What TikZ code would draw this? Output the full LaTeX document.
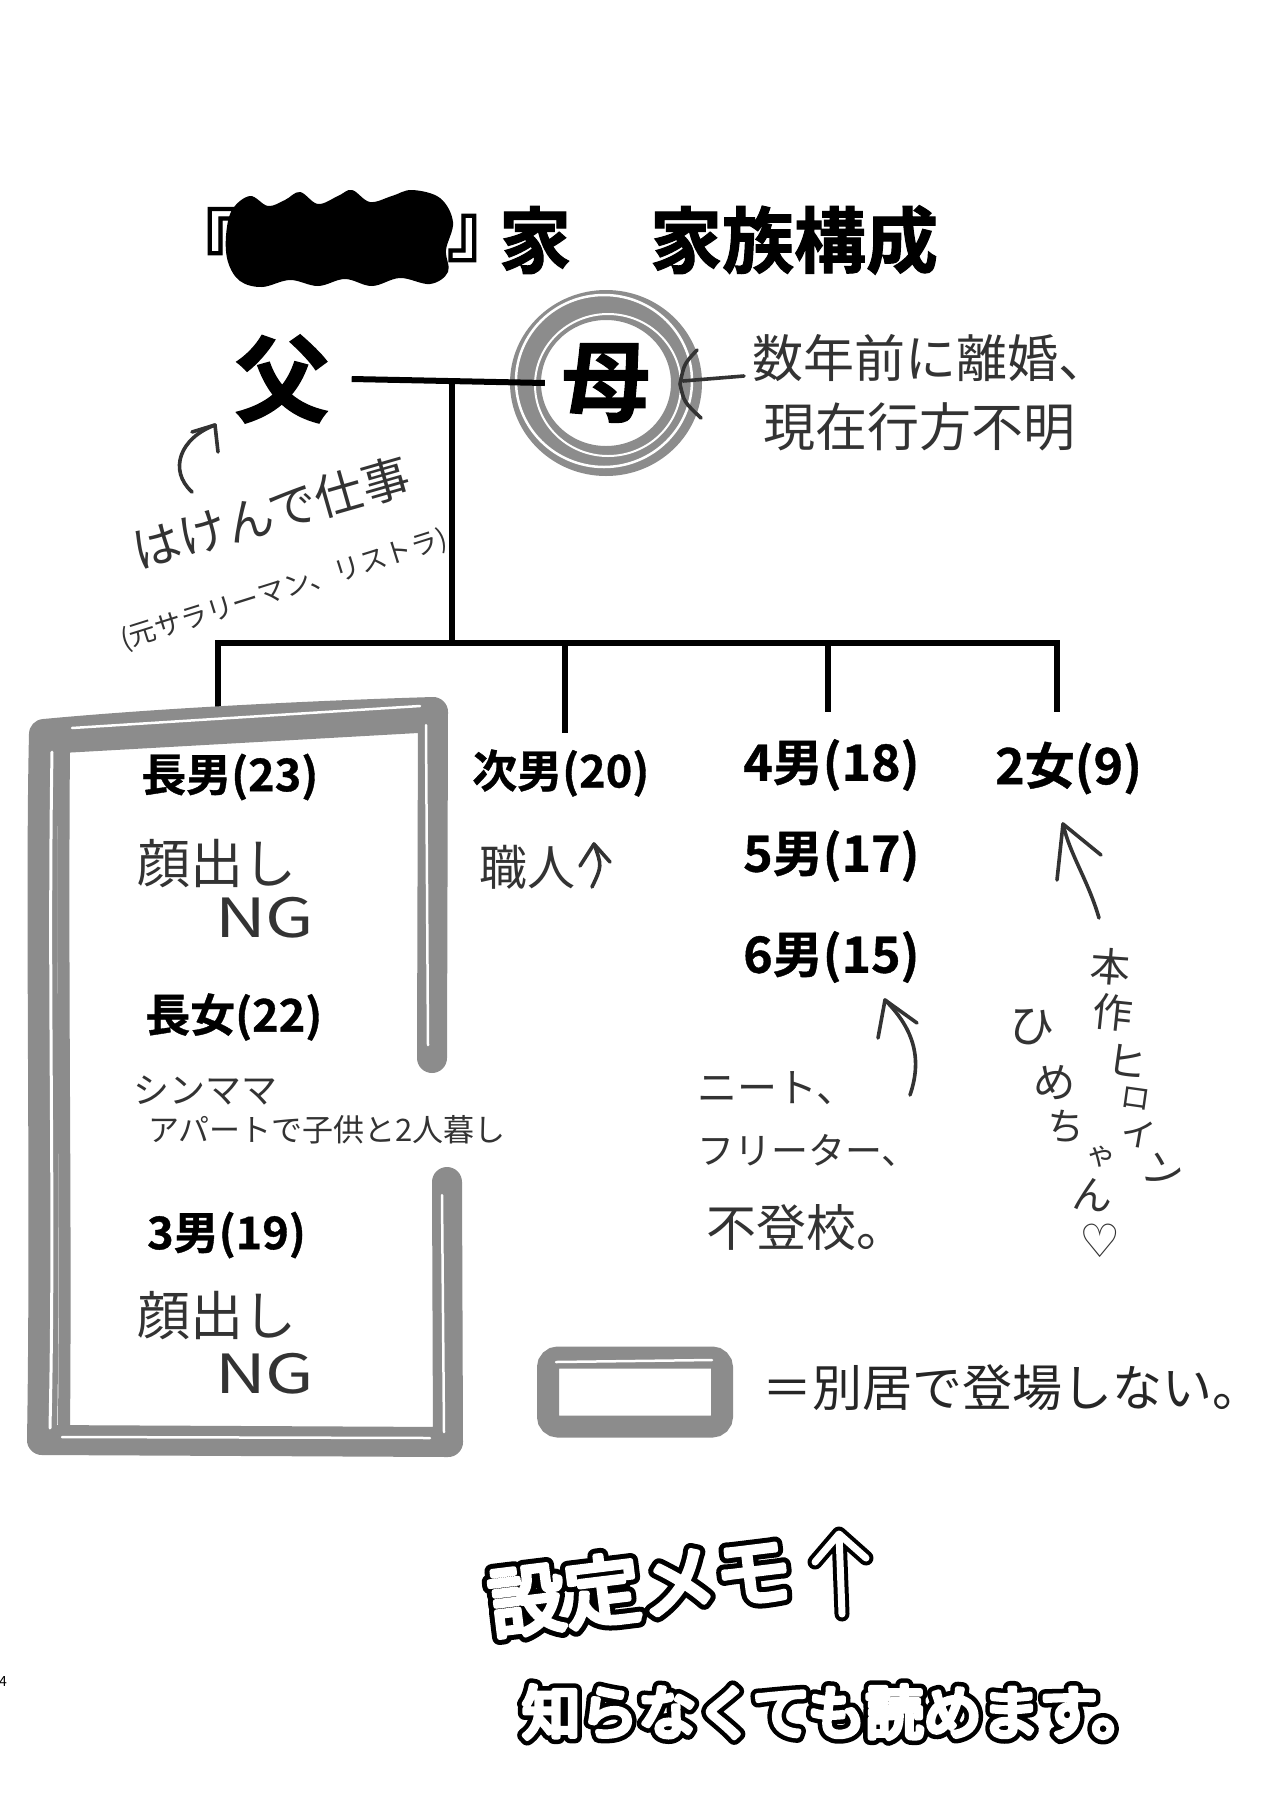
\documentclass[tikz,border=0pt]{standalone}
\usepackage{fontspec}
\usetikzlibrary{calc}
\newfontfamily\jp{Noto Sans CJK JP}
\newfontfamily\jpheavy{Noto Sans CJK JP}[UprightFont={* Bold},FakeBold=1.5]
\newfontfamily\jpkid{Noto Sans CJK JP}[UprightFont={* Bold},FakeBold=0.8]
\newfontfamily\dejavu{DejaVu Sans}
\newcommand\fsz[1]{\fontsize{#1}{#1}\selectfont}
\newcommand\strokedtext[2]{\special{pdf:literal direct 2 Tr #1 w 1 J 1 j}#2\special{pdf:literal direct 0 Tr}}
\definecolor{pen}{HTML}{333333}
\definecolor{tone}{gray}{0.55}
\begin{document}
\begin{tikzpicture}[x=1pt,y=-1pt,
  famline/.style={line width=6pt, black},
  pencil/.style={line width=3.6pt, pen, line cap=round, line join=round},
  hand/.style={font=\jp\fsz{#1}, text=pen, inner sep=0pt},
  kid/.style={font=\jpkid\fsz{#1}, inner sep=0pt, anchor=west},
  tonestroke/.style={draw=tone, line cap=round, line join=round},
  memo/.style={font=\jp\fsz{76}, rotate=7, inner sep=0pt},
  readme/.style={font=\jp\fsz{58}, inner sep=0pt},
]
\useasboundingbox[fill=white] (0,0) rectangle (1280,1818);

% ---------- title ----------
\node[font=\jpheavy\fsz{72}, inner sep=0pt] (tq1) at (219,238) {\makebox[36pt][r]{『}};
\node[font=\jpheavy\fsz{72}, inner sep=0pt] (tq2) at (465,238) {\makebox[36pt][l]{』}};
\node[font=\jpheavy\fsz{72}, inner sep=0pt] (tie) at (535,240) {家};
\node[font=\jpheavy\fsz{72}, inner sep=0pt] (title) at (794,240) {家族構成};
\fill[black] plot[smooth cycle, tension=0.6] coordinates {(232,210) (250,196) (268,206) (285,200) (300,192) (318,204) (338,196) (352,190) (370,202) (392,196) (412,190) (440,198) (453,222) (446,250) (448,272) (430,284) (400,278) (372,286) (345,279) (318,286) (290,280) (262,287) (240,281) (228,262) (226,236)};

% ---------- parents ----------
\fill[tone, even odd rule] (606,383) ellipse (96 and 93) (606,383) ellipse (65 and 63);
\draw[white, line width=2.5pt] (604,381) ellipse (88 and 86);
\draw[white, line width=2pt] (608,385) ellipse (73 and 71);
\node[font=\jpheavy\fsz{95}, inner sep=0pt] (father) at (282,379) {父};
\node[font=\jpheavy\fsz{88}, inner sep=0pt, circle, minimum size=122pt] (mother) at (606,383) {母};

\coordinate (j1) at (452,379);
\coordinate (j2) at (452,643);
\coordinate (barL) at (218,643);
\coordinate (barR) at (1057,643);
\coordinate (b2) at (565,643);
\coordinate (b3) at (828,643);
\coordinate (e1) at (218,722);
\coordinate (e2) at (565,733);
\coordinate (e3) at (828,712);
\coordinate (e4) at (1057,712);

\draw[famline] ([xshift=22pt]father.east) -- (mother.west);
\draw[famline] (j1) -- (j2);
\draw[famline, line cap=rect] (barL) -- (barR);
\draw[famline] (barL) -- (e1);
\draw[famline] (b2) -- (e2);
\draw[famline] (b3) -- (e3);
\draw[famline] (barR) -- (e4);

% ---------- notes on parents ----------
\coordinate (mtip) at (680,384);
\draw[pencil] (697,350) .. controls (684,364) .. (mtip) .. controls (684,402) .. (701,418);
\draw[pencil] (683,381) -- (744,376);
\node[hand=51, anchor=west] (note1) at (752,358) {数年前に離婚、};
\node[hand=52, anchor=west] (note2) at (763,427) {現在行方不明};

\coordinate (ftip) at (215,425);
\draw[pencil] (192,492) .. controls (168,470) and (180,438) .. (ftip);
\draw[pencil] (192,432) -- (ftip) -- (218,452);
\node[hand=48, rotate=16] (haken) at (271,513) {はけんで仕事};
\node[hand=27, rotate=17.5] (moto) at (284,590) {(元サラリーマン、リストラ)};

% ---------- separated-living frame ----------
\draw[tonestroke, line width=30pt] (432,1058) -- (433,712) .. controls (300,716) and (150,724) .. (44,734) .. controls (40,900) and (46,1200) .. (42,1440) -- (448,1442) -- (447,1182);
\draw[tonestroke, line width=12pt] (64,742) .. controls (62,1000) and (66,1200) .. (64,1432);
\draw[tonestroke, line width=10pt] (62,748) -- (418,728);
\draw[white, line width=3pt, line cap=round] (52,752) .. controls (48,1000) and (55,1200) .. (50,1428);
\draw[white, line width=2.5pt, line cap=round] (72,728) -- (420,706);
\draw[white, line width=2.5pt, line cap=round] (426,725) -- (428,1045);
\draw[white, line width=2.5pt, line cap=round] (442,1195) -- (444,1432);
\draw[white, line width=2.5pt, line cap=round] (62,1437) -- (430,1438);

% ---------- children ----------
\node[kid=45] (son1) at (141,777) {長男(23)};
\node[hand=53, anchor=west] (face1) at (137,864) {顔出し};
\node[font=\jp\fsz{54}, text=pen, inner sep=0pt, anchor=west] (ng1) at (215,918) {\scalebox{1.3}[1]{NG}};
\node[kid=45] (dau1) at (145,1017) {長女(22)};
\node[hand=36, anchor=west] (sinmama) at (133,1090) {シンママ};
\node[hand=31, anchor=west] (apart) at (148,1130) {アパートで子供と2人暮し};
\node[kid=45] (son3) at (147,1235) {3男(19)};
\node[hand=53, anchor=west] (face3) at (137,1316) {顔出し};
\node[font=\jp\fsz{54}, text=pen, inner sep=0pt, anchor=west] (ng3) at (215,1374) {\scalebox{1.3}[1]{NG}};

\node[kid=45] (son2) at (472,773) {次男(20)};
\node[hand=48, anchor=west] (shoku) at (479,867) {職人};
\coordinate (stip) at (594,844);
\draw[pencil] (stip) .. controls (602,866) .. (592,887);
\draw[pencil] (580,866) -- (stip) -- (610,862);

\node[kid=50] (son4) at (743,765) {4男(18)};
\node[kid=50] (son5) at (743,856) {5男(17)};
\node[kid=50] (son6) at (743,957) {6男(15)};
\coordinate (sixtip) at (885,1000);
\draw[pencil] (910,1095) .. controls (922,1060) and (915,1030) .. (sixtip);
\draw[pencil] (878,1038) -- (sixtip) -- (917,1023);
\node[hand=40, anchor=west] (neet) at (697,1088) {ニート、};
\node[hand=37, anchor=west] (freeter) at (697,1150) {フリーター、};
\node[hand=50, anchor=west] (futoko) at (706,1228) {不登校。};

\node[kid=50] (dau2) at (995,768) {2女(9)};
\coordinate (htip) at (1063,824);
\draw[pencil] (1099,918) .. controls (1088,880) and (1070,855) .. (htip);
\draw[pencil] (1057,880) -- (htip) -- (1101,855);
\node[hand=40, rotate=-4] (v1) at (1110,967) {本};
\node[hand=40, rotate=-6] (v2) at (1113,1013) {作};
\node[hand=40, rotate=-8] (v3) at (1127,1061) {ヒ};
\node[hand=30, rotate=-8] (v4) at (1136,1099) {ロ};
\node[hand=34, rotate=-10] (v5) at (1138,1134) {イ};
\node[hand=40, rotate=-20] (v6) at (1163,1171) {ン};
\node[hand=46, rotate=-6] (w1) at (1032,1027) {ひ};
\node[hand=42, rotate=-6] (w2) at (1055,1082) {め};
\node[hand=38, rotate=-6] (w3) at (1066,1127) {ち};
\node[hand=30, rotate=-6] (w4) at (1101,1157) {ゃ};
\node[hand=40, rotate=-6] (w5) at (1093,1195) {ん};
\node[font=\dejavu\fsz{46}, text=pen, inner sep=0pt] (heart) at (1100,1241) {♡};

% ---------- legend ----------
\node[draw=tone, line width=22pt, rounded corners=10pt, minimum width=174pt, minimum height=69pt, inner sep=0pt] (legend) at (635,1392) {};
\draw[white, line width=2.5pt, line cap=round] (556,1362) -- (712,1360);
\node[hand=50, anchor=west, text=black!85] (legtext) at (762,1388) {＝別居で登場しない。};

% ---------- outlined memo text ----------
\node[memo, text=black] (memoS) at (640,1586) {\strokedtext{15}{設定メモ}};
\node[memo, text=white] (memo) at (memoS.center) {\strokedtext{5}{設定メモ}};
\coordinate (atip) at (839,1534);
\draw[black, line width=15pt, line cap=round, line join=round] (842,1614) -- (atip) (815,1562) -- (atip) -- (866,1558);
\draw[white, line width=7pt, line cap=round, line join=round] (842,1614) -- (atip) (815,1562) -- (atip) -- (866,1558);

\node[readme, text=black] (readS) at (836,1712) {\strokedtext{14}{知らなくても読めます。}};
\node[readme, text=white] (read) at (readS.center) {\strokedtext{5}{知らなくても読めます。}};

% page number
\node[font=\jp\fsz{14}, inner sep=0pt] (pageno) at (3,1681) {4};
\end{tikzpicture}
\end{document}
